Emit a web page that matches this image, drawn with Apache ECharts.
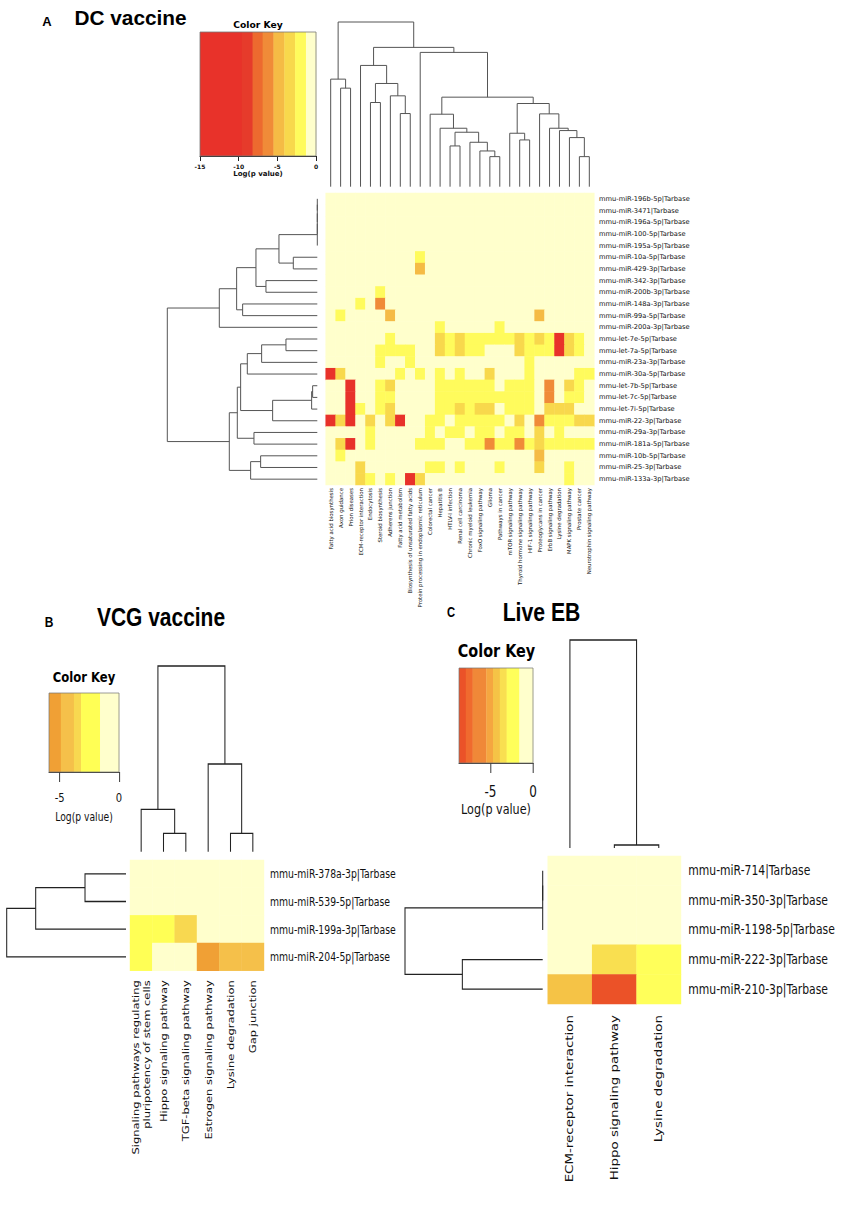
<!DOCTYPE html>
<html><head><meta charset="utf-8">
<script src="https://cdn.jsdelivr.net/npm/echarts@6/dist/echarts.min.js"></script>
<style>
html,body{margin:0;padding:0;overflow:hidden;background:#fff;width:851px;height:1206px;}
.panel{position:absolute;left:0;top:0;height:1206px;transform-origin:0 0;}
</style></head><body>
<div id="pa" class="panel"></div>
<div id="pbc" class="panel"></div>
<script>
// ---------------- Panel A : DC vaccine ----------------
const rowsA = ['mmu-miR-196b-5p|Tarbase','mmu-miR-3471|Tarbase','mmu-miR-196a-5p|Tarbase','mmu-miR-100-5p|Tarbase','mmu-miR-195a-5p|Tarbase','mmu-miR-10a-5p|Tarbase','mmu-miR-429-3p|Tarbase','mmu-miR-342-3p|Tarbase','mmu-miR-200b-3p|Tarbase','mmu-miR-148a-3p|Tarbase','mmu-miR-99a-5p|Tarbase','mmu-miR-200a-3p|Tarbase','mmu-let-7e-5p|Tarbase','mmu-let-7a-5p|Tarbase','mmu-miR-23a-3p|Tarbase','mmu-miR-30a-5p|Tarbase','mmu-let-7b-5p|Tarbase','mmu-let-7c-5p|Tarbase','mmu-let-7i-5p|Tarbase','mmu-miR-22-3p|Tarbase','mmu-miR-29a-3p|Tarbase','mmu-miR-181a-5p|Tarbase','mmu-miR-10b-5p|Tarbase','mmu-miR-25-3p|Tarbase','mmu-miR-133a-3p|Tarbase'];
const colsA = ['Fatty acid biosynthesis','Axon guidance','Prion diseases','ECM-receptor interaction','Endocytosis','Steroid biosynthesis','Adherens junction','Fatty acid metabolism','Biosynthesis of unsaturated fatty acids','Protein processing in endoplasmic reticulum','Colorectal cancer','Hepatitis B','HTLV-I infection','Renal cell carcinoma','Chronic myeloid leukemia','FoxO signaling pathway','Glioma','Pathways in cancer','mTOR signaling pathway','Thyroid hormone signaling pathway','HIF-1 signaling pathway','Proteoglycans in cancer','ErbB signaling pathway','Lysine degradation','MAPK signaling pathway','Prostate cancer','Neurotrophin signaling pathway'];
const valuesA = [
 [-.5,-.5,-.5,-.5,-.5,-.5,-.5,-.5,-.5, -.5,-.5,-.5,-.5,-.5,-.5,-.5,-.5,-.5, -.5,-.5,-.5,-.5,-.5,-.5,-.5,-.5,-.5],
 [-.5,-.5,-.5,-.5,-.5,-.5,-.5,-.5,-.5, -.5,-.5,-.5,-.5,-.5,-.5,-.5,-.5,-.5, -.5,-.5,-.5,-.5,-.5,-.5,-.5,-.5,-.5],
 [-.5,-.5,-.5,-.5,-.5,-.5,-.5,-.5,-.5, -.5,-.5,-.5,-.5,-.5,-.5,-.5,-.5,-.5, -.5,-.5,-.5,-.5,-.5,-.5,-.5,-.5,-.5],
 [-.5,-.5,-.5,-.5,-.5,-.5,-.5,-.5,-.5, -.5,-.5,-.5,-.5,-.5,-.5,-.5,-.5,-.5, -.5,-.5,-.5,-.5,-.5,-.5,-.5,-.5,-.5],
 [-.5,-.5,-.5,-.5,-.5,-.5,-.5,-.5,-.5, -.5,-.5,-.5,-.5,-.5,-.5,-.5,-.5,-.5, -.5,-.5,-.5,-.5,-.5,-.5,-.5,-.5,-.5],
 [-.5,-.5,-.5,-.5,-.5,-.5,-.5,-.5,-.5, -2,-.5,-.5,-.5,-.5,-.5,-.5,-.5,-.5, -.5,-.5,-.5,-.5,-.5,-.5,-.5,-.5,-.5],
 [-.5,-.5,-.5,-.5,-.5,-.5,-.5,-.5,-.5, -4.8,-.5,-.5,-.5,-.5,-.5,-.5,-.5,-.5, -.5,-.5,-.5,-.5,-.5,-.5,-.5,-.5,-.5],
 [-.5,-.5,-.5,-.5,-.5,-.5,-.5,-.5,-.5, -.5,-.5,-.5,-.5,-.5,-.5,-.5,-.5,-.5, -.5,-.5,-.5,-.5,-.5,-.5,-.5,-.5,-.5],
 [-.5,-.5,-.5,-.5,-.5,-2,-.5,-.5,-.5, -.5,-.5,-.5,-.5,-.5,-.5,-.5,-.5,-.5, -.5,-.5,-.5,-.5,-.5,-.5,-.5,-.5,-.5],
 [-.5,-.5,-.5,-2,-.5,-6,-.5,-.5,-.5, -.5,-.5,-.5,-.5,-.5,-.5,-.5,-.5,-.5, -.5,-.5,-.5,-.5,-.5,-.5,-.5,-.5,-.5],
 [-.5,-1.8,-.5,-.5,-.5,-.5,-4.5,-.5,-.5, -.5,-.5,-.5,-.5,-.5,-.5,-.5,-.5,-.5, -.5,-.5,-.5,-4.8,-.5,-.5,-.5,-.5,-.5],
 [-.5,-.5,-.5,-.5,-.5,-.5,-.5,-.5,-.5, -.5,-.5,-2,-.5,-.5,-.5,-.5,-.5,-2, -.5,-.5,-.5,-.5,-.5,-.5,-.5,-.5,-.5],
 [-.5,-.5,-.5,-.5,-.5,-.5,-2,-.5,-.5, -.5,-.5,-3.5,-2,-3.5,-2,-2,-2,-2, -2,-3.5,-2,-3.5,-2,-12,-3.5,-2,-.5],
 [-.5,-.5,-.5,-.5,-.5,-2,-2,-2,-2, -.5,-.5,-3.5,-2,-3.5,-2,-2,-.5,-.5, -.5,-3.5,-2,-2,-2,-12,-3.5,-2,-.5],
 [-.5,-.5,-.5,-.5,-.5,-2,-.5,-.5,-2, -.5,-.5,-.5,-.5,-.5,-.5,-.5,-.5,-.5, -.5,-.5,-2,-.5,-.5,-.5,-.5,-.5,-.5],
 [-12,-3.5,-.5,-.5,-.5,-.5,-.5,-2,-.5, -2,-.5,-2,-.5,-2,-.5,-.5,-3.5,-.5, -.5,-.5,-2,-.5,-.5,-.5,-.5,-2,-2],
 [-.5,-.5,-12,-.5,-.5,-2,-3.5,-.5,-.5, -.5,-.5,-2,-2,-2,-2,-2,-2,-.5, -2,-2,-2,-.5,-6.5,-.5,-3.5,-2,-.5],
 [-.5,-.5,-12,-.5,-.5,-2,-2,-.5,-.5, -.5,-.5,-2,-2,-2,-2,-2,-2,-2, -2,-2,-2,-.5,-6.5,-.5,-2,-2,-.5],
 [-.5,-.5,-12,-2,-.5,-2,-3.5,-.5,-.5, -.5,-.5,-2,-2,-3.5,-2,-3.5,-3.5,-.5, -2,-2,-2,-.5,-3.5,-3.5,-3.5,-.5,-.5],
 [-12,-3.5,-12,-.5,-3.5,-.5,-3.5,-12,-.5, -.5,-2,-2,-.5,-2,-2,-2,-2,-2, -.5,-3.5,-.5,-6,-2,-2,-2,-3.5,-3.5],
 [-.5,-.5,-.5,-.5,-2,-.5,-.5,-.5,-.5, -.5,-2,-.5,-2,-2,-.5,-2,-2,-.5, -2,-2,-.5,-3.5,-.5,-2,-.5,-.5,-.5],
 [-.5,-3.5,-12,-.5,-2,-.5,-.5,-.5,-.5, -2,-2,-2,-.5,-.5,-2,-2,-6,-2, -2,-6,-2,-3.5,-2,-2,-2,-2,-2],
 [-.5,-2,-.5,-.5,-.5,-.5,-.5,-.5,-.5, -.5,-.5,-.5,-.5,-.5,-.5,-.5,-.5,-.5, -.5,-.5,-.5,-5,-.5,-.5,-.5,-.5,-.5],
 [-.5,-.5,-.5,-3.5,-.5,-.5,-.5,-.5,-.5, -.5,-2,-2,-.5,-2,-.5,-.5,-.5,-2, -.5,-.5,-.5,-3.5,-.5,-.5,-2,-.5,-.5],
 [-.5,-.5,-.5,-3.5,-2,-.5,-2,-.5,-12, -3.5,-.5,-.5,-.5,-.5,-.5,-.5,-.5,-.5, -.5,-.5,-.5,-.5,-.5,-.5,-2,-.5,-.5]
];
// dendrograms: [left, right, mergeHeight], leaves are indices
const colTreeA = [[0,[1,2,295],322],[[3,[[4,5,252],[6,[7,8,219],272],309],363],[9,[[10,[11,[[12,13,122],[14,[15,[16,17,90],107],133],163],175],217],[[18,[19,20,140],160],[21,[22,[23,[24,[25,26,90],147],168],175],218],249],268],402],417],493];
const rowTreeA = [[[[[[[[[0,1,0],2,0],3,0],4,0],[5,6,72],115],[7,8,154],184],[9,10,224],242],11,294],[[[[[[12,13,94],14,167],15,210],[[[16,17,14],18,17],19,134],230],[20,21,190],240],[[22,23,170],24,200],264],450];
const keyBreaksA = [-15,-9.6,-8.2,-6.9,-5.5,-4.1,-2.7,-1.3,0];
const keyColorsA = ['#e8322a','#e63b2b','#ed6a2f','#f08b38','#f5bb45','#f8d84c','#fffb5c','#ffffcc'];
const keyTicksA = [-15,-10,-5,0];

// ---------------- Panel B : VCG vaccine ----------------
const rowsB = ['mmu-miR-378a-3p|Tarbase','mmu-miR-539-5p|Tarbase','mmu-miR-199a-3p|Tarbase','mmu-miR-204-5p|Tarbase'];
const colsB = ['Signaling pathways regulating\npluripotency of stem cells','Hippo signaling pathway','TGF-beta signaling pathway','Estrogen signaling pathway','Lysine degradation','Gap junction'];
const valuesB = [
 [-.5,-.5,-.5,-.5,-.5,-.5],
 [-.5,-.5,-.5,-.5,-.5,-.5],
 [-2.5,-2.5,-3.5,-.5,-.5,-.5],
 [-2.5,-.5,-.5,-5.4,-4.3,-4.3]
];
const colTreeB = [[0,[1,2,55],127],[3,[4,5,55],263],557];
const rowTreeB = [[[0,1,123],2,271],3,358];
const keyBreaksB = [-5.9,-4.9,-3.8,-3.2,-1.6,0];
const keyColorsB = ['#f0a035','#f5c04a','#f8d850','#ffff55','#ffffcc'];
const keyTicksB = [-5,0];

// ---------------- Panel C : Live EB ----------------
const rowsC = ['mmu-miR-714|Tarbase','mmu-miR-350-3p|Tarbase','mmu-miR-1198-5p|Tarbase','mmu-miR-222-3p|Tarbase','mmu-miR-210-3p|Tarbase'];
const colsC = ['ECM-receptor interaction','Hippo signaling pathway','Lysine degradation'];
const valuesC = [
 [-.5,-.5,-.5],
 [-.5,-.5,-.5],
 [-.5,-.5,-.5],
 [-.5,-3.5,-2.5],
 [-4.3,-8.3,-2.5]
];
const colTreeC = [0,[1,2,3],208];
const rowTreeC = [[[0,1,0],2,0],[3,4,241],413];
const keyBreaksC = [-8.7,-7.9,-7.1,-5.5,-4.7,-3.9,-3.1,-1.6,0];
const keyColorsC = ['#eb5228','#f06a2e','#f08838','#f5a640','#f5c346','#f9df50','#ffff5a','#ffffcc'];
const keyTicksC = [-5,0];

// ---------------- helpers ----------------
const FONT = "'DejaVu Sans', Verdana, sans-serif";
const TFONT = "'Liberation Sans', Arial, sans-serif";
const SA = 1.0, SBC = 0.8;

function newBuilder(s){ return {s, grid:[], xAxis:[], yAxis:[], series:[], visualMap:[], graphic:[]}; }
function addGrid(b, x0, x1, y0, y1){
  b.grid.push({left:x0/b.s, width:(x1-x0)/b.s, top:y0, height:y1-y0, show:false});
  return b.grid.length-1;
}
function addHeatmap(b, box, rows, cols, values, breaks, colors, o){
  const g = addGrid(b, ...box);
  b.xAxis.push({type:'category', gridIndex:g, data:cols, position:'bottom',
    axisLine:{show:false}, axisTick:{show:false}, splitLine:{show:false},
    axisLabel:{interval:0, rotate:90, margin:o.colMargin, fontSize:o.colFont, fontFamily:FONT, color:'#111', lineHeight:o.colLH}});
  b.yAxis.push({type:'category', gridIndex:g, data:rows, inverse:true, position:'right',
    axisLine:{show:false}, axisTick:{show:false}, splitLine:{show:false},
    axisLabel:{interval:0, margin:o.rowMargin/b.s, fontSize:o.rowFont, fontFamily:FONT, color:'#111'}});
  const data = [];
  values.forEach((row, r) => row.forEach((v, c) => data.push([c, r, v])));
  b.series.push({type:'heatmap', xAxisIndex:g, yAxisIndex:g, data, emphasis:{disabled:true}, itemStyle:{borderWidth:0}});
  const pieces = colors.map((c, i) => (i === colors.length-1 ? {gte:breaks[i], lte:breaks[i+1], color:c} : {gte:breaks[i], lt:breaks[i+1], color:c}));
  b.visualMap.push({type:'piecewise', show:false, seriesIndex:b.series.length-1, dimension:2, pieces});
}
function addDendro(b, box, tree, n, orient, color, lw){
  const g = addGrid(b, ...box);
  const segs = [];
  (function walk(nd){
    if (typeof nd === 'number') return [nd, 0];
    const a = walk(nd[0]), c = walk(nd[1]);
    segs.push([a[0], a[1], c[0], c[1], nd[2]]);
    return [(a[0]+c[0])/2, nd[2]];
  })(tree);
  const H = tree[2];
  if (orient === 'top'){
    b.xAxis.push({type:'value', gridIndex:g, show:false, min:-0.5, max:n-0.5});
    b.yAxis.push({type:'value', gridIndex:g, show:false, min:0, max:H});
  } else {
    b.xAxis.push({type:'value', gridIndex:g, show:false, min:0, max:H, inverse:true});
    b.yAxis.push({type:'value', gridIndex:g, show:false, min:-0.5, max:n-0.5, inverse:true});
  }
  b.series.push({type:'custom', coordinateSystem:'cartesian2d', xAxisIndex:g, yAxisIndex:g, data:segs, silent:true, clip:false,
    renderItem:(p, api) => {
      const P = (pos, h) => orient === 'top' ? api.coord([pos, h]) : api.coord([h, pos]);
      const v = [0,1,2,3,4].map(i => api.value(i));
      return {type:'polyline', shape:{points:[P(v[0],v[1]), P(v[0],v[4]), P(v[2],v[4]), P(v[2],v[3])]},
        style:{stroke:color, lineWidth:lw, fill:'none'}};
    }});
}
function addKey(b, box, breaks, colors, ticks, o){
  const g = addGrid(b, ...box);
  const lo = breaks[0], hi = breaks[breaks.length-1];
  b.xAxis.push({type:'value', gridIndex:g, min:lo, max:hi, position:'bottom',
    axisLine:{show:true, onZero:false, lineStyle:{color:'#222', width:1}},
    axisTick:{show:true, customValues:ticks, length:o.tickLen, lineStyle:{color:'#222', width:1}},
    axisLabel:{show:true, customValues:ticks, margin:o.labMargin, fontSize:o.labFont, fontFamily:FONT, fontWeight:o.fw, color:'#111'},
    splitLine:{show:false},
    name:'Log(p value)', nameLocation:'middle', nameGap:o.nameGap,
    nameTextStyle:{fontSize:o.nameFont, fontFamily:FONT, fontWeight:o.fw, color:'#111'}});
  b.yAxis.push({type:'value', gridIndex:g, min:0, max:1, show:false});
  const data = colors.map((c, i) => [breaks[i], breaks[i+1], i]);
  b.series.push({type:'custom', coordinateSystem:'cartesian2d', xAxisIndex:g, yAxisIndex:g, data, silent:true, clip:false,
    renderItem:(p, api) => {
      const a = api.coord([api.value(0), 1]), z = api.coord([api.value(1), 0]);
      return {type:'rect', shape:{x:a[0], y:a[1], width:z[0]-a[0]+0.4, height:z[1]-a[1]}, style:{fill:colors[api.value(2)]}};
    }});
  b.series.push({type:'custom', coordinateSystem:'cartesian2d', xAxisIndex:g, yAxisIndex:g, data:[[lo, hi]], silent:true, clip:false, z:3,
    renderItem:(p, api) => {
      const a = api.coord([api.value(0), 1]), z = api.coord([api.value(1), 0]);
      return {type:'rect', shape:{x:a[0], y:a[1], width:z[0]-a[0], height:z[1]-a[1]}, style:{fill:'none', stroke:'#777', lineWidth:0.8}};
    }});
  b.graphic.push({type:'text', x:o.titleX/b.s, y:o.titleY, silent:true,
    style:{text:'Color Key', fontSize:o.titleFont, fontWeight:'bold', fontFamily:FONT, fill:'#000', align:'center', verticalAlign:'middle'}});
}
function addText(b, x, y, text, size, family){
  b.graphic.push({type:'text', x:x/b.s, y, silent:true,
    style:{text, fontSize:size, fontWeight:'bold', fontFamily:family, fill:'#000', align:'center', verticalAlign:'middle'}});
}
function render(id, b){
  const el = document.getElementById(id);
  const w = 851 / b.s;
  el.style.width = w + 'px';
  el.style.transform = 'scaleX(' + b.s + ')';
  const chart = echarts.init(el, null, {renderer:'svg', width:w, height:1206});
  chart.setOption({animation:false, backgroundColor:'transparent', grid:b.grid, xAxis:b.xAxis, yAxis:b.yAxis,
    series:b.series, visualMap:b.visualMap, graphic:b.graphic});
}

// ---------------- Panel A ----------------
const bA = newBuilder(SA);
addHeatmap(bA, [325.7, 594.3, 193, 485], rowsA, colsA, valuesA, keyBreaksA, keyColorsA,
  {rowFont:6.7, rowMargin:4.7, colFont:5.4, colMargin:3, colLH:7});
addDendro(bA, [325.7, 594.3, 22, 186.7], colTreeA, colsA.length, 'top', '#555', 1);
addDendro(bA, [167.3, 317.3, 193, 485], rowTreeA, rowsA.length, 'left', '#555', 1);
addKey(bA, [200, 316, 32, 156], keyBreaksA, keyColorsA, keyTicksA,
  {tickLen:5, labMargin:7, labFont:6, fw:'bold', nameGap:14, nameFont:7, titleX:258, titleY:24, titleFont:9.2});
addText(bA, 47, 21, 'A', 13, TFONT);
addText(bA, 130.5, 17, 'DC vaccine', 20.8, TFONT);
render('pa', bA);

// ---------------- Panels B and C ----------------
const bB = newBuilder(SBC);
addHeatmap(bB, [130, 264, 860, 970.7], rowsB, colsB, valuesB, keyBreaksB, keyColorsB,
  {rowFont:11.6, rowMargin:6, colFont:11.5, colMargin:9.5, colLH:14});
addDendro(bB, [130, 264, 666, 851.7], colTreeB, colsB.length, 'top', '#222', 1.3);
addDendro(bB, [6.7, 126, 860, 970.7], rowTreeB, rowsB.length, 'left', '#222', 1.3);
addKey(bB, [49, 119, 693, 772], keyBreaksB, keyColorsB, keyTicksB,
  {tickLen:10, labMargin:20, labFont:12.5, fw:'normal', nameGap:39, nameFont:11.5, titleX:84, titleY:677, titleFont:14.5});
addText(bB, 49, 622.5, 'B', 15, TFONT);
addText(bB, 161, 617, 'VCG vaccine', 26.2, TFONT);

addHeatmap(bB, [547.7, 681, 856, 1004], rowsC, colsC, valuesC, keyBreaksC, keyColorsC,
  {rowFont:13.5, rowMargin:7.3, colFont:13.4, colMargin:11, colLH:16});
addDendro(bB, [547.7, 681, 640, 848], colTreeC, colsC.length, 'top', '#222', 1.3);
addDendro(bB, [405, 542.7, 856, 1004], rowTreeC, rowsC.length, 'left', '#222', 1.3);
addKey(bB, [459, 533, 668, 763], keyBreaksC, keyColorsC, keyTicksC,
  {tickLen:10, labMargin:21, labFont:15, fw:'normal', nameGap:39, nameFont:14, titleX:496.5, titleY:651, titleFont:18});
addText(bB, 451, 613, 'C', 14, TFONT);
addText(bB, 541.5, 612, 'Live EB', 26.5, TFONT);
render('pbc', bB);
</script></body></html>
